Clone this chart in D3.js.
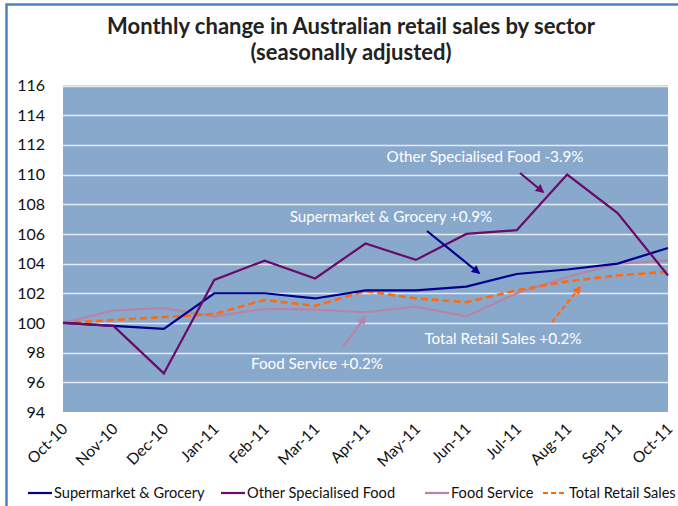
<!DOCTYPE html>
<html>
<head>
<meta charset="utf-8">
<script src="https://d3js.org/d3.v7.min.js"></script>
<style>
  body { margin: 0; background: #fff; }
  text { font-family: Lato, "Open Sans", sans-serif; }
</style>
</head>
<body>
<script>

var months = ["Oct-10","Nov-10","Dec-10","Jan-11","Feb-11","Mar-11","Apr-11",
              "May-11","Jun-11","Jul-11","Aug-11","Sep-11","Oct-11"];
var supermarket = [100, 99.8, 99.6, 102.0, 102.0, 101.65, 102.2, 102.2, 102.45, 103.3, 103.6, 104.0, 105.05];
var otherFood   = [100, 99.8, 96.6, 102.9, 104.2, 103.0, 105.35, 104.25, 106.0, 106.25, 110.0, 107.4, 103.2];
var foodService = [100, 100.85, 101.0, 100.45, 100.95, 100.9, 100.72, 101.1, 100.45, 102.0, 103.1, 104.0, 104.2];
var totalRetail = [100, 100.2, 100.4, 100.6, 101.55, 101.15, 102.15, 101.65, 101.4, 102.2, 102.8, 103.2, 103.45];
var yTicks = [94, 96, 98, 100, 102, 104, 106, 108, 110, 112, 114, 116];

var series = [
  {name: "Supermarket & Grocery", values: supermarket, color: "#00008f", dash: null, width: 2.2},
  {name: "Other Specialised Food", values: otherFood, color: "#6a0a6a", dash: null, width: 2.2},
  {name: "Food Service", values: foodService, color: "#b584a8", dash: null, width: 2.2},
  {name: "Total Retail Sales", values: totalRetail, color: "#ff6a10", dash: "7,4", width: 2.6}
];

var W = 678, H = 506;
var svg = d3.select("body").append("svg").attr("width", W).attr("height", H);

// chart border
svg.append("rect").attr("x", 6.5).attr("y", 4.5).attr("width", W + 10).attr("height", H + 10)
    .attr("fill", "none").attr("stroke", "#4f81bd").attr("stroke-width", 2.5);

svg.append("text").attr("x", 351).attr("y", 34).attr("text-anchor", "middle")
    .style("font-size", "22px").style("font-weight", "bold").attr("fill", "#222")
    .text("Monthly change in Australian retail sales by sector");
svg.append("text").attr("x", 351).attr("y", 60).attr("text-anchor", "middle")
    .style("font-size", "22px").style("font-weight", "bold").attr("fill", "#222")
    .text("(seasonally adjusted)");

var x = d3.scalePoint().domain(months).range([63, 668]);
var y = d3.scaleLinear().domain([94, 116]).range([412, 85.5]);

svg.append("rect").attr("x", 63).attr("y", y(116)).attr("width", 605).attr("height", y(94) - y(116))
    .attr("fill", "#88a9cc");

svg.append("g").selectAll("line").data(yTicks.slice(1)).enter().append("line")
    .attr("x1", 63).attr("x2", 668)
    .attr("y1", d => Math.round(y(d)) + 0.5).attr("y2", d => Math.round(y(d)) + 0.5)
    .attr("stroke", "#e4ebf3").attr("stroke-width", 1.5);

var yAxis = svg.append("g").attr("transform", "translate(49,0)")
    .call(d3.axisLeft(y).tickValues(yTicks).tickSize(0).tickPadding(4));
yAxis.select(".domain").remove();
yAxis.selectAll("text").style("font-size", "16px").attr("fill", "#111")
    .style("font-family", "Lato, 'Open Sans', sans-serif");

var xAxis = svg.append("g").attr("transform", "translate(0,412)")
    .call(d3.axisBottom(x).tickSize(0));
xAxis.select(".domain").remove();
xAxis.selectAll("text").style("font-size", "15.5px").attr("fill", "#111")
    .style("font-family", "Lato, 'Open Sans', sans-serif")
    .attr("text-anchor", "end").attr("dy", null).attr("y", 0)
    .attr("transform", "translate(5,18) rotate(-45)");

var line = d3.line().x((d, i) => x(months[i])).y(d => y(d));

// order: food service first, then total, supermarket, other
[2, 3, 0, 1].forEach(function(k) {
  var s = series[k];
  svg.append("path").datum(s.values).attr("d", line)
      .attr("fill", "none").attr("stroke", s.color).attr("stroke-width", s.width)
      .attr("stroke-dasharray", s.dash);
});

// annotations
var notes = [
  {text: "Other Specialised Food -3.9%", tx: 485, ty: 162, from: [520, 173], to: [543, 192], color: "#6a0a6a", dash: null},
  {text: "Supermarket & Grocery +0.9%", tx: 391, ty: 222, from: [427, 231], to: [479, 273], color: "#00008f", dash: null},
  {text: "Total Retail Sales +0.2%", tx: 503, ty: 344, from: [552, 322], to: [580, 287], color: "#ff6a10", dash: "5,3"},
  {text: "Food Service +0.2%", tx: 317, ty: 369, from: [343, 347], to: [365, 317], color: "#b584a8", dash: null}
];

var defs = svg.append("defs");
notes.forEach(function(n, i) {
  defs.append("marker").attr("id", "arr" + i).attr("viewBox", "0 0 10 10")
      .attr("refX", 8).attr("refY", 5).attr("markerWidth", 4).attr("markerHeight", 4)
      .attr("orient", "auto")
    .append("path").attr("d", "M0,0L10,5L0,10z").attr("fill", n.color);
  svg.append("text").attr("x", n.tx).attr("y", n.ty).attr("text-anchor", "middle")
      .style("font-size", "15.2px").attr("fill", "#fff").text(n.text);
  svg.append("line").attr("x1", n.from[0]).attr("y1", n.from[1])
      .attr("x2", n.to[0]).attr("y2", n.to[1])
      .attr("stroke", n.color).attr("stroke-width", 2.2)
      .attr("stroke-dasharray", n.dash)
      .attr("marker-end", "url(#arr" + i + ")");
});

// legend
var legendX = [28, 221, 425, 543];
var leg = svg.append("g").attr("transform", "translate(0,493)");
series.forEach(function(s, i) {
  var g = leg.append("g").attr("transform", "translate(" + legendX[i] + ",0)");
  g.append("line").attr("x1", 0).attr("x2", 24).attr("y1", 0).attr("y2", 0)
      .attr("stroke", s.color).attr("stroke-width", 2.2).attr("stroke-dasharray", s.dash ? "5,3" : null);
  g.append("text").attr("x", 26).attr("y", 5).style("font-size", "14.6px").attr("fill", "#111").text(s.name);
});

</script>
</body>
</html>
